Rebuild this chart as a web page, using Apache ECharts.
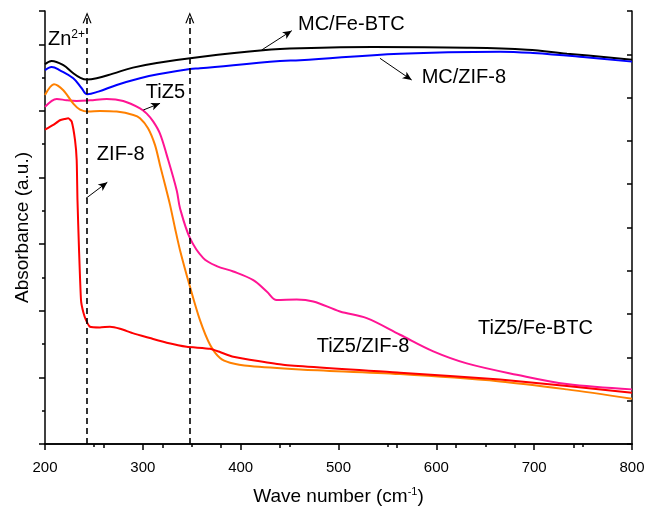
<!DOCTYPE html>
<html>
<head>
<meta charset="utf-8">
<script src="https://cdn.jsdelivr.net/npm/echarts@6/dist/echarts.min.js"></script>
<style>
  html, body { margin: 0; padding: 0; background: #fff; }
  #main { width: 648px; height: 514px; }
</style>
</head>
<body>
<div id="main"></div>
<script>
// x ticks (wave number) and dashed marker positions
const xTicks = [200, 300, 400, 500, 600, 700, 800];
const markerLines = [243, 348];

// spectra, [wave number, absorbance a.u.]
const mcFeBtc = [
  [200, 5.70], [206.8, 5.75], [218.4, 5.69], [228.6, 5.57], [235.8, 5.50], [242.6, 5.47],
  [252.8, 5.49], [269.5, 5.56], [289.9, 5.65], [314.2, 5.72], [358.4, 5.81], [422.8, 5.91],
  [460.7, 5.94], [535.3, 5.96], [631.4, 5.95], [692.7, 5.92], [733.6, 5.86], [800, 5.77]
];
const mcZif8 = [
  [200, 5.61], [206.8, 5.66], [215.3, 5.61], [228.9, 5.49], [237.5, 5.34], [243.2, 5.25],
  [254.5, 5.29], [273.3, 5.39], [297.1, 5.49], [315.5, 5.55], [348.2, 5.63], [358.4, 5.64],
  [440.2, 5.75], [460.7, 5.76], [562.9, 5.86], [665.1, 5.89], [698.8, 5.87], [750, 5.81], [800, 5.74]
];
const tiz5FeBtc = [
  [200, 5.06], [212.0, 5.18], [222.2, 5.16], [232.4, 5.15], [246.0, 5.16], [263.1, 5.18],
  [280.0, 5.15], [297.1, 5.04], [304.0, 4.96], [310.7, 4.84], [317.5, 4.66], [324.4, 4.34],
  [334.6, 3.81], [338.0, 3.54], [348.2, 3.09], [361.8, 2.79], [375.5, 2.67], [392.5, 2.59],
  [412.9, 2.46], [426.6, 2.29], [436.8, 2.16], [457.3, 2.17], [474.2, 2.14], [501.5, 1.99],
  [528.8, 1.89], [562.9, 1.64], [596.9, 1.39], [631.1, 1.21], [682.2, 1.04], [733.3, 0.90],
  [800, 0.82]
];
const tiz5Zif8 = [
  [200, 5.24], [209.2, 5.40], [218.7, 5.31], [228.9, 5.11], [235.8, 5.02], [244.3, 4.99],
  [256.2, 5.00], [273.3, 4.99], [290.3, 4.94], [297.1, 4.89], [305.3, 4.74], [312.4, 4.49],
  [317.5, 4.19], [322.7, 3.89], [327.8, 3.59], [332.9, 3.24], [338.0, 2.91], [348.2, 2.36],
  [358.4, 1.86], [368.7, 1.49], [378.9, 1.29], [389.1, 1.22], [409.5, 1.17], [460.7, 1.12],
  [562.9, 1.05], [665.1, 0.94], [733.3, 0.82], [800, 0.68]
];
const zif8 = [
  [200, 4.72], [208.5, 4.79], [215.3, 4.86], [220.4, 4.88], [223.8, 4.89], [227.3, 4.84],
  [230.7, 4.56], [232.4, 4.26], [233.2, 3.66], [234.8, 2.91], [236.8, 2.16], [239.1, 1.98],
  [241.9, 1.86], [246.0, 1.76], [256.2, 1.75], [266.4, 1.76], [276.7, 1.73], [290.3, 1.66],
  [307.3, 1.59], [324.4, 1.52], [344.8, 1.46], [368.7, 1.43], [378.9, 1.38], [392.5, 1.31],
  [443.3, 1.19], [562.9, 1.07], [665.1, 0.97], [800, 0.77]
];

const chart = echarts.init(document.getElementById("main"));
const FONT = "Liberation Sans";
const chevron = "path://M0,10 L5,0 L10,10 L8.6,10 L5,2.6 L1.4,10 Z";

function line(name, data, color, smooth) {
  return {
    name: name,
    type: "line",
    data: data,
    showSymbol: false,
    smooth: smooth,
    lineStyle: { color: color, width: 2 },
    itemStyle: { color: color },
    z: 3
  };
}

// arrows pointing at curves, [from, to] in data coords
const arrows = [
  [[421.5, 5.915], [452.2, 6.205]],
  [[542.4, 5.79], [574.8, 5.464]],
  [[300.5, 5.014], [317.6, 5.114]],
  [[241.9, 3.688], [263.7, 3.929]]
];

// curve labels, left edge / vertical middle in data coords
const notes = [
  { text: "Zn{sup|2+}", at: [203, 6.07] },
  { text: "MC/Fe-BTC", at: [458.6, 6.3] },
  { text: "MC/ZIF-8", at: [585, 5.5] },
  { text: "TiZ5", at: [303, 5.28] },
  { text: "ZIF-8", at: [253, 4.34] },
  { text: "TiZ5/ZIF-8", at: [477.7, 1.47] },
  { text: "TiZ5/Fe-BTC", at: [642.6, 1.74] }
];

const series = [
  line("MC/Fe-BTC", mcFeBtc, "#000000", 0.4),
  line("MC/ZIF-8", mcZif8, "#0000ff", 0.4),
  line("TiZ5/Fe-BTC", tiz5FeBtc, "#ff1493", 0.35),
  line("TiZ5/ZIF-8", tiz5Zif8, "#ff8000", 0.3),
  line("ZIF-8", zif8, "#ff0000", 0.15)
];

const dashed = markerLines.map(x => [
  { coord: [x, 0], symbol: "none", lineStyle: { type: [6, 4], width: 1.6, color: "#000" } },
  { coord: [x, 6.4], symbol: chevron, symbolSize: [9, 11] }
]);
const pointers = arrows.map(a => [
  { coord: a[0], symbol: "none", lineStyle: { type: "solid", width: 1, color: "#000" } },
  { coord: a[1], symbol: "arrow", symbolSize: [6, 9] }
]);

// dashed markers, arrows and curve labels
series.push({
  type: "line",
  data: [],
  silent: true,
  markLine: {
    silent: true,
    animation: false,
    label: { show: false },
    data: dashed.concat(pointers)
  },
  markPoint: {
    silent: true,
    animation: false,
    symbol: "circle",
    symbolSize: 0,
    data: notes.map(n => ({
      coord: n.at,
      label: {
        show: true,
        position: "right",
        distance: 0,
        formatter: n.text,
        fontFamily: FONT,
        fontSize: 20,
        color: "#000",
        rich: { sup: { fontFamily: FONT, fontSize: 12, verticalAlign: "top", padding: [0, 0, 10, 0], color: "#000" } }
      }
    }))
  }
});

const axisLine = { show: true, lineStyle: { color: "#000", width: 1.5 } };

chart.setOption({
  animation: false,
  backgroundColor: "#fff",
  grid: { left: 45, right: 16, top: 11, bottom: 70 },
  xAxis: [
    {
      type: "value", position: "bottom", min: xTicks[0], max: xTicks[xTicks.length - 1], interval: 100,
      axisLine: axisLine,
      axisTick: { show: true, inside: false, length: 6, lineStyle: { color: "#000", width: 1.5 } },
      minorTick: { show: true, splitNumber: 2, length: 3, lineStyle: { color: "#000", width: 1.5 } },
      splitLine: { show: false },
      axisLabel: { fontFamily: FONT, fontSize: 15, color: "#000", margin: 16 },
      name: "Wave number (cm{sup|-1})",
      nameLocation: "middle",
      nameGap: 42,
      nameTextStyle: {
        fontFamily: FONT, fontSize: 19, color: "#000",
        rich: { sup: { fontFamily: FONT, fontSize: 11, verticalAlign: "top", padding: [0, 0, 10, 0], color: "#000" } }
      }
    },
    {
      type: "value", position: "top", min: 0, max: 10, interval: 1,
      axisLine: axisLine,
      axisTick: { show: true, inside: true, length: 4, lineStyle: { color: "#000", width: 1.5 } },
      axisLabel: { show: false },
      splitLine: { show: false }
    }
  ],
  yAxis: [
    {
      type: "value", position: "left", min: 0, max: 6.5, interval: 1,
      axisLine: axisLine,
      axisTick: { show: true, inside: false, length: 6, lineStyle: { color: "#000", width: 1.5 } },
      minorTick: { show: true, splitNumber: 2, length: 3, lineStyle: { color: "#000", width: 1.5 } },
      axisLabel: { show: false },
      splitLine: { show: false },
      name: "Absorbance (a.u.)",
      nameLocation: "middle",
      nameGap: 13,
      nameTextStyle: { fontFamily: FONT, fontSize: 19, color: "#000" }
    },
    {
      type: "value", position: "right", min: 0, max: 10, interval: 1,
      axisLine: axisLine,
      axisTick: { show: true, inside: true, length: 5, lineStyle: { color: "#000", width: 1.5 } },
      axisLabel: { show: false },
      splitLine: { show: false }
    }
  ],
  series: series
});
</script>
</body>
</html>
